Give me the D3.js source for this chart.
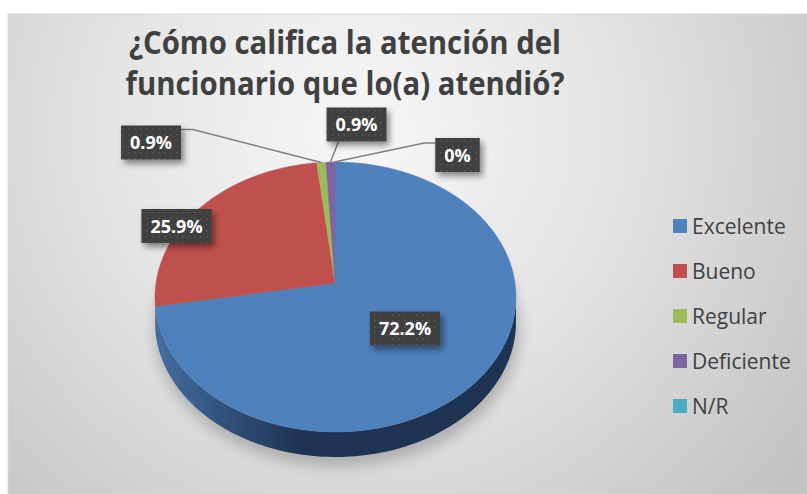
<!DOCTYPE html>
<html lang="es">
<head>
<meta charset="UTF-8">
<title>Atención del funcionario</title>
<script src="https://d3js.org/d3.v7.min.js"></script>
<style>
    body { margin: 0; background: #ffffff; }
    svg { display: block; }
</style>
</head>
<body>
<svg id="chart" width="807" height="494"></svg>
<script>
// data
const categories = ["Excelente", "Bueno", "Regular", "Deficiente", "N/R"];
const values = [72.2, 25.9, 0.9, 0.9, 0];
const colors = ["#4F81BD", "#C0504D", "#9BBB59", "#8064A2", "#4BACC6"];
const sideColors = [["#446ea2", "#1f3352"], ["#8a3a38", "#6e2a28"], ["#6f8a3c", "#5a7030"], ["#5c477a", "#4a3863"], ["#35889e", "#2a6e80"]];
const titleLines = ["¿Cómo califica la atención del", "funcionario que lo(a) atendió?"];

// label box placement relative to the pie apex (layout only)
const labelOffsets = [[70, 45.5], [-158.5, -57], [-184, -140.5], [21.5, -158.5], [122.5, -128]];
const leaderKind = [null, null, "right", "bottom", "left"];

const width = 807, height = 494;
const svg = d3.select("#chart");
const defs = svg.append("defs");

// background
const bg = defs.append("radialGradient").attr("id", "bg")
    .attr("gradientUnits", "userSpaceOnUse")
    .attr("cx", 360).attr("cy", 130).attr("r", 560);
bg.append("stop").attr("offset", "0%").attr("stop-color", "#f7f7f7");
bg.append("stop").attr("offset", "45%").attr("stop-color", "#e4e4e4");
bg.append("stop").attr("offset", "100%").attr("stop-color", "#c2c2c2");

svg.append("rect")
    .attr("x", 8).attr("y", 14)
    .attr("width", width).attr("height", height)
    .attr("fill", "url(#bg)")
    .attr("stroke", "#d8d8d8").attr("stroke-width", 1);

// pie geometry
const cx = 335.5, cy = 297, rx = 180.5, ry = 135, depth = 25;
const apex = [335, 283];

// point on the rim along direction angle a (clockwise from top) seen from apex
function rim(a) {
    const dx = Math.sin(a) * rx, dy = -Math.cos(a) * ry;
    const ox = (apex[0] - cx) / rx, oy = (apex[1] - cy) / ry;
    const ux = dx / rx, uy = dy / ry;
    const A = ux * ux + uy * uy, B = 2 * (ox * ux + oy * uy), C = ox * ox + oy * oy - 1;
    const t = (-B + Math.sqrt(B * B - 4 * A * C)) / (2 * A);
    return [apex[0] + dx * t, apex[1] + dy * t];
}

const pie = d3.pie().sort(null).value(d => d).startAngle(0).endAngle(2 * Math.PI);
const arcs = pie(values);

// shadow under the pie
const shadow = defs.append("filter").attr("id", "pieShadow")
    .attr("x", "-20%").attr("y", "-20%").attr("width", "140%").attr("height", "140%");
shadow.append("feGaussianBlur").attr("stdDeviation", 7);

svg.append("ellipse")
    .attr("cx", cx + 2).attr("cy", cy + depth + 8)
    .attr("rx", rx + 2).attr("ry", ry + 2)
    .attr("fill", "#8a8a8a").attr("opacity", 0.55)
    .attr("filter", "url(#pieShadow)");

const gPie = svg.append("g");

// side walls
arcs.forEach((d, i) => {
    if (d.endAngle - d.startAngle <= 0) return;
    const n = 200;
    const pts = d3.range(n + 1)
        .map(k => rim(d.startAngle + (d.endAngle - d.startAngle) * k / n))
        .filter(p => p[1] >= cy - 0.5);
    if (pts.length < 2) return;
    const grad = defs.append("linearGradient").attr("id", "side" + i)
        .attr("gradientUnits", "userSpaceOnUse")
        .attr("x1", cx - rx).attr("x2", cx + rx).attr("y1", 0).attr("y2", 0);
    grad.append("stop").attr("offset", "0%").attr("stop-color", sideColors[i][0]);
    grad.append("stop").attr("offset", "40%").attr("stop-color", sideColors[i][1]);
    grad.append("stop").attr("offset", "100%").attr("stop-color", sideColors[i][1]);
    const bottom = pts.slice().reverse().map(p => [p[0], p[1] + depth]);
    gPie.append("path")
        .attr("d", d3.line()(pts.concat(bottom)) + "Z")
        .attr("fill", "url(#side" + i + ")");
});

// top faces
arcs.forEach((d, i) => {
    if (d.endAngle - d.startAngle <= 0) return;
    const n = Math.max(4, Math.ceil((d.endAngle - d.startAngle) * 80));
    const pts = d3.range(n + 1).map(k => rim(d.startAngle + (d.endAngle - d.startAngle) * k / n));
    gPie.append("path")
        .attr("d", d3.line()([apex].concat(pts)) + "Z")
        .attr("fill", colors[i])
        .attr("stroke", colors[i]).attr("stroke-width", 0.4);
});

// title (stretched vertically a little to mimic the taller original face)
const titleFont = "'Open Sans', 'DejaVu Sans', sans-serif";
const titleScaleY = 1.08;
const title = svg.append("g").attr("transform", `translate(345,0) scale(1,${titleScaleY})`);
const t1 = title.append("text")
    .attr("x", 0).attr("y", 54 / titleScaleY)
    .attr("text-anchor", "middle")
    .attr("font-family", titleFont).attr("font-weight", "bold")
    .attr("font-size", 30).attr("fill", "#404040")
    .text(titleLines[0]);
const fit = 30 * 432 / t1.node().getComputedTextLength();
t1.attr("font-size", fit);
title.append("text")
    .attr("x", 0).attr("y", 95 / titleScaleY)
    .attr("text-anchor", "middle")
    .attr("font-family", titleFont).attr("font-weight", "bold")
    .attr("font-size", fit).attr("fill", "#404040")
    .text(titleLines[1]);

// label box styling
const pat = defs.append("pattern").attr("id", "dots")
    .attr("patternUnits", "userSpaceOnUse").attr("width", 6).attr("height", 6);
pat.append("rect").attr("width", 6).attr("height", 6).attr("fill", "#404040");
pat.append("rect").attr("x", 2).attr("y", 2).attr("width", 1.5).attr("height", 1.5).attr("fill", "#585858");

const boxShadow = defs.append("filter").attr("id", "boxShadow")
    .attr("x", "-30%").attr("y", "-30%").attr("width", "170%").attr("height", "180%");
boxShadow.append("feDropShadow")
    .attr("dx", 3).attr("dy", 4).attr("stdDeviation", 3)
    .attr("flood-color", "#000").attr("flood-opacity", 0.45);

const gLeaders = svg.append("g");
const gLabels = svg.append("g");

arcs.forEach((d, i) => {
    const bx = apex[0] + labelOffsets[i][0], by = apex[1] + labelOffsets[i][1];
    const g = gLabels.append("g");
    const box = g.append("rect").attr("fill", "url(#dots)").attr("filter", "url(#boxShadow)");
    const txt = g.append("text")
        .attr("x", bx).attr("y", by + 6.5)
        .attr("text-anchor", "middle")
        .attr("font-family", "'Open Sans', sans-serif").attr("font-weight", "bold")
        .attr("font-size", 18).attr("fill", "#ffffff")
        .text(d3.format("")(values[i]) + "%");
    const w = txt.node().getComputedTextLength() + 18, h = 34;
    const x0 = bx - w / 2, y0 = by - h / 2;
    box.attr("x", x0).attr("y", y0).attr("width", w).attr("height", h);

    // leader lines for outside labels
    const kind = leaderKind[i];
    if (!kind) return;
    const mid = d.endAngle - d.startAngle > 0 ? (d.startAngle + d.endAngle) / 2 : d.startAngle - 0.005;
    const end = rim(mid);
    let path;
    if (kind === "right") path = [[x0 + w, y0 + 4], [x0 + w + 12, y0 + 4], end];
    else if (kind === "left") path = [[x0, y0 + 5], [x0 - 11, y0 + 5], end];
    else path = [[bx - 18, y0 + h], end];
    gLeaders.append("path")
        .attr("d", d3.line()(path))
        .attr("fill", "none")
        .attr("stroke", "#7f7f7f").attr("stroke-width", 1.5);
});

// legend
const legend = svg.append("g");
const legendY = d3.scalePoint().domain(categories).range([226, 406]);
categories.forEach((c, i) => {
    const y = legendY(c);
    legend.append("rect")
        .attr("x", 673).attr("y", y - 7)
        .attr("width", 14).attr("height", 14)
        .attr("fill", colors[i]);
    legend.append("text")
        .attr("x", 692).attr("y", y + 7.5)
        .attr("font-family", "'Open Sans', sans-serif")
        .attr("font-size", 21).attr("fill", "#404040")
        .text(c);
});
</script>
</body>
</html>
